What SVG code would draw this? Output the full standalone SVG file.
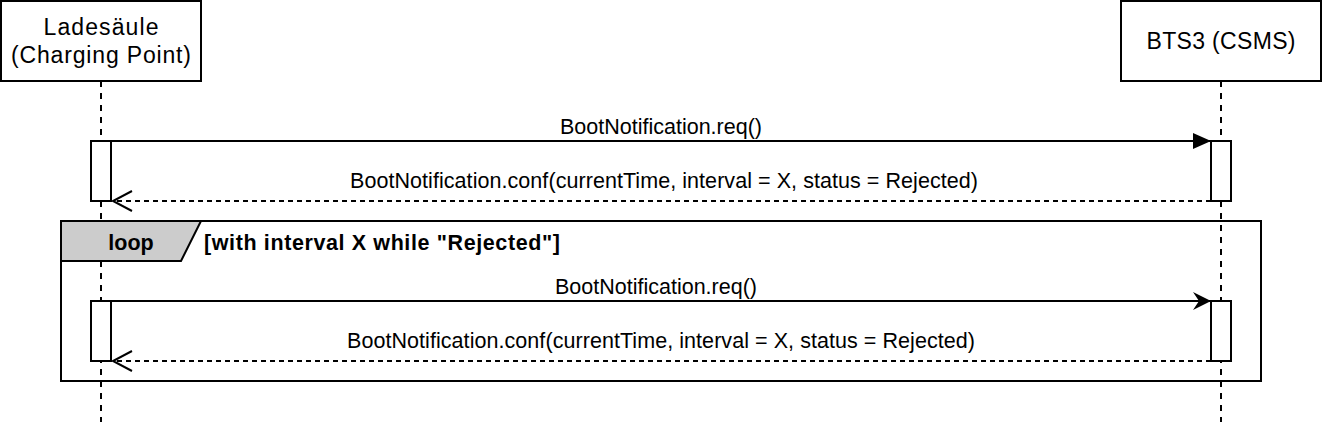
<svg xmlns="http://www.w3.org/2000/svg" width="1322" height="422" viewBox="0 0 1322 422">
<style>
.box{fill:#ffffff;stroke:#000000;stroke-width:2}
.life{fill:none;stroke:#000000;stroke-width:2;stroke-dasharray:6 6}
.act{fill:#ffffff;stroke:#000000;stroke-width:2}
.msg{fill:none;stroke:#000000;stroke-width:2}
.reply{fill:none;stroke:#000000;stroke-width:2;stroke-dasharray:5 4}
.head{font-family:"Liberation Sans",Arial,sans-serif;font-size:23px;fill:#000000;text-anchor:middle}
.lbl{font-family:"Liberation Sans",Arial,sans-serif;font-size:21.5px;fill:#000000;text-anchor:middle}
.bold{font-family:"Liberation Sans",Arial,sans-serif;font-size:21.5px;font-weight:bold;fill:#000000}
</style>
<defs>
<marker id="block" markerUnits="userSpaceOnUse" markerWidth="20" markerHeight="18" refX="18" refY="8" orient="auto" viewBox="0 0 20 18">
<path d="M0,0 L18,8 L0,16 Z" fill="#000000"/>
</marker>
<marker id="classic" markerUnits="userSpaceOnUse" markerWidth="20" markerHeight="20" refX="18" refY="9" orient="auto" viewBox="0 0 20 20">
<path d="M0,0 L18,9 L0,18 L6,9 Z" fill="#000000"/>
</marker>
<marker id="open" markerUnits="userSpaceOnUse" markerWidth="24" markerHeight="24" refX="21" refY="11" orient="auto" viewBox="0 0 24 24">
<path d="M2,1 L21,11 L2,21" fill="none" stroke="#000000" stroke-width="2"/>
</marker>
</defs>

<g id="lifelines">
<line class="life" x1="101" y1="81" x2="101" y2="422"/>
<line class="life" x1="1221" y1="81" x2="1221" y2="422"/>
</g>

<g id="node-ladesaeule">
<rect class="box" x="1" y="1" width="200" height="80"/>
<text class="head" x="101" y="35" textLength="115" lengthAdjust="spacing">Ladesäule</text>
<text class="head" x="101" y="63" textLength="180" lengthAdjust="spacing">(Charging Point)</text>
</g>

<g id="node-bts3">
<rect class="box" x="1121" y="1" width="200" height="80"/>
<text class="head" x="1221" y="49" textLength="149" lengthAdjust="spacing">BTS3 (CSMS)</text>
</g>

<g id="loop-frame">
<rect x="61" y="221" width="1200" height="160" fill="none" stroke="#000000" stroke-width="2"/>
<path d="M61,221 L201,221 L181,261 L61,261 Z" fill="#cccccc" stroke="#000000" stroke-width="2"/>
<text class="bold" x="131" y="250" text-anchor="middle">loop</text>
<text class="bold" x="204" y="250" textLength="356" lengthAdjust="spacing">[with interval X while "Rejected"]</text>
</g>

<g id="activations">
<rect class="act" x="91" y="141" width="20" height="60"/>
<rect class="act" x="1211" y="141" width="20" height="60"/>
<rect class="act" x="91" y="301" width="20" height="60"/>
<rect class="act" x="1211" y="301" width="20" height="60"/>
</g>

<g id="connectors">
<line class="msg" x1="111" y1="141" x2="1211" y2="141" marker-end="url(#block)"/>
<line class="reply" x1="1211" y1="201" x2="113" y2="201" marker-end="url(#open)"/>
<line class="msg" x1="111" y1="301" x2="1211" y2="301" marker-end="url(#classic)"/>
<line class="reply" x1="1211" y1="361" x2="113" y2="361" marker-end="url(#open)"/>
</g>

<g id="labels">
<text class="lbl" x="661" y="134">BootNotification.req()</text>
<text class="lbl" x="664" y="188" textLength="628" lengthAdjust="spacing">BootNotification.conf(currentTime, interval = X, status = Rejected)</text>
<text class="lbl" x="656" y="294">BootNotification.req()</text>
<text class="lbl" x="661" y="348" textLength="628" lengthAdjust="spacing">BootNotification.conf(currentTime, interval = X, status = Rejected)</text>
</g>
</svg>
